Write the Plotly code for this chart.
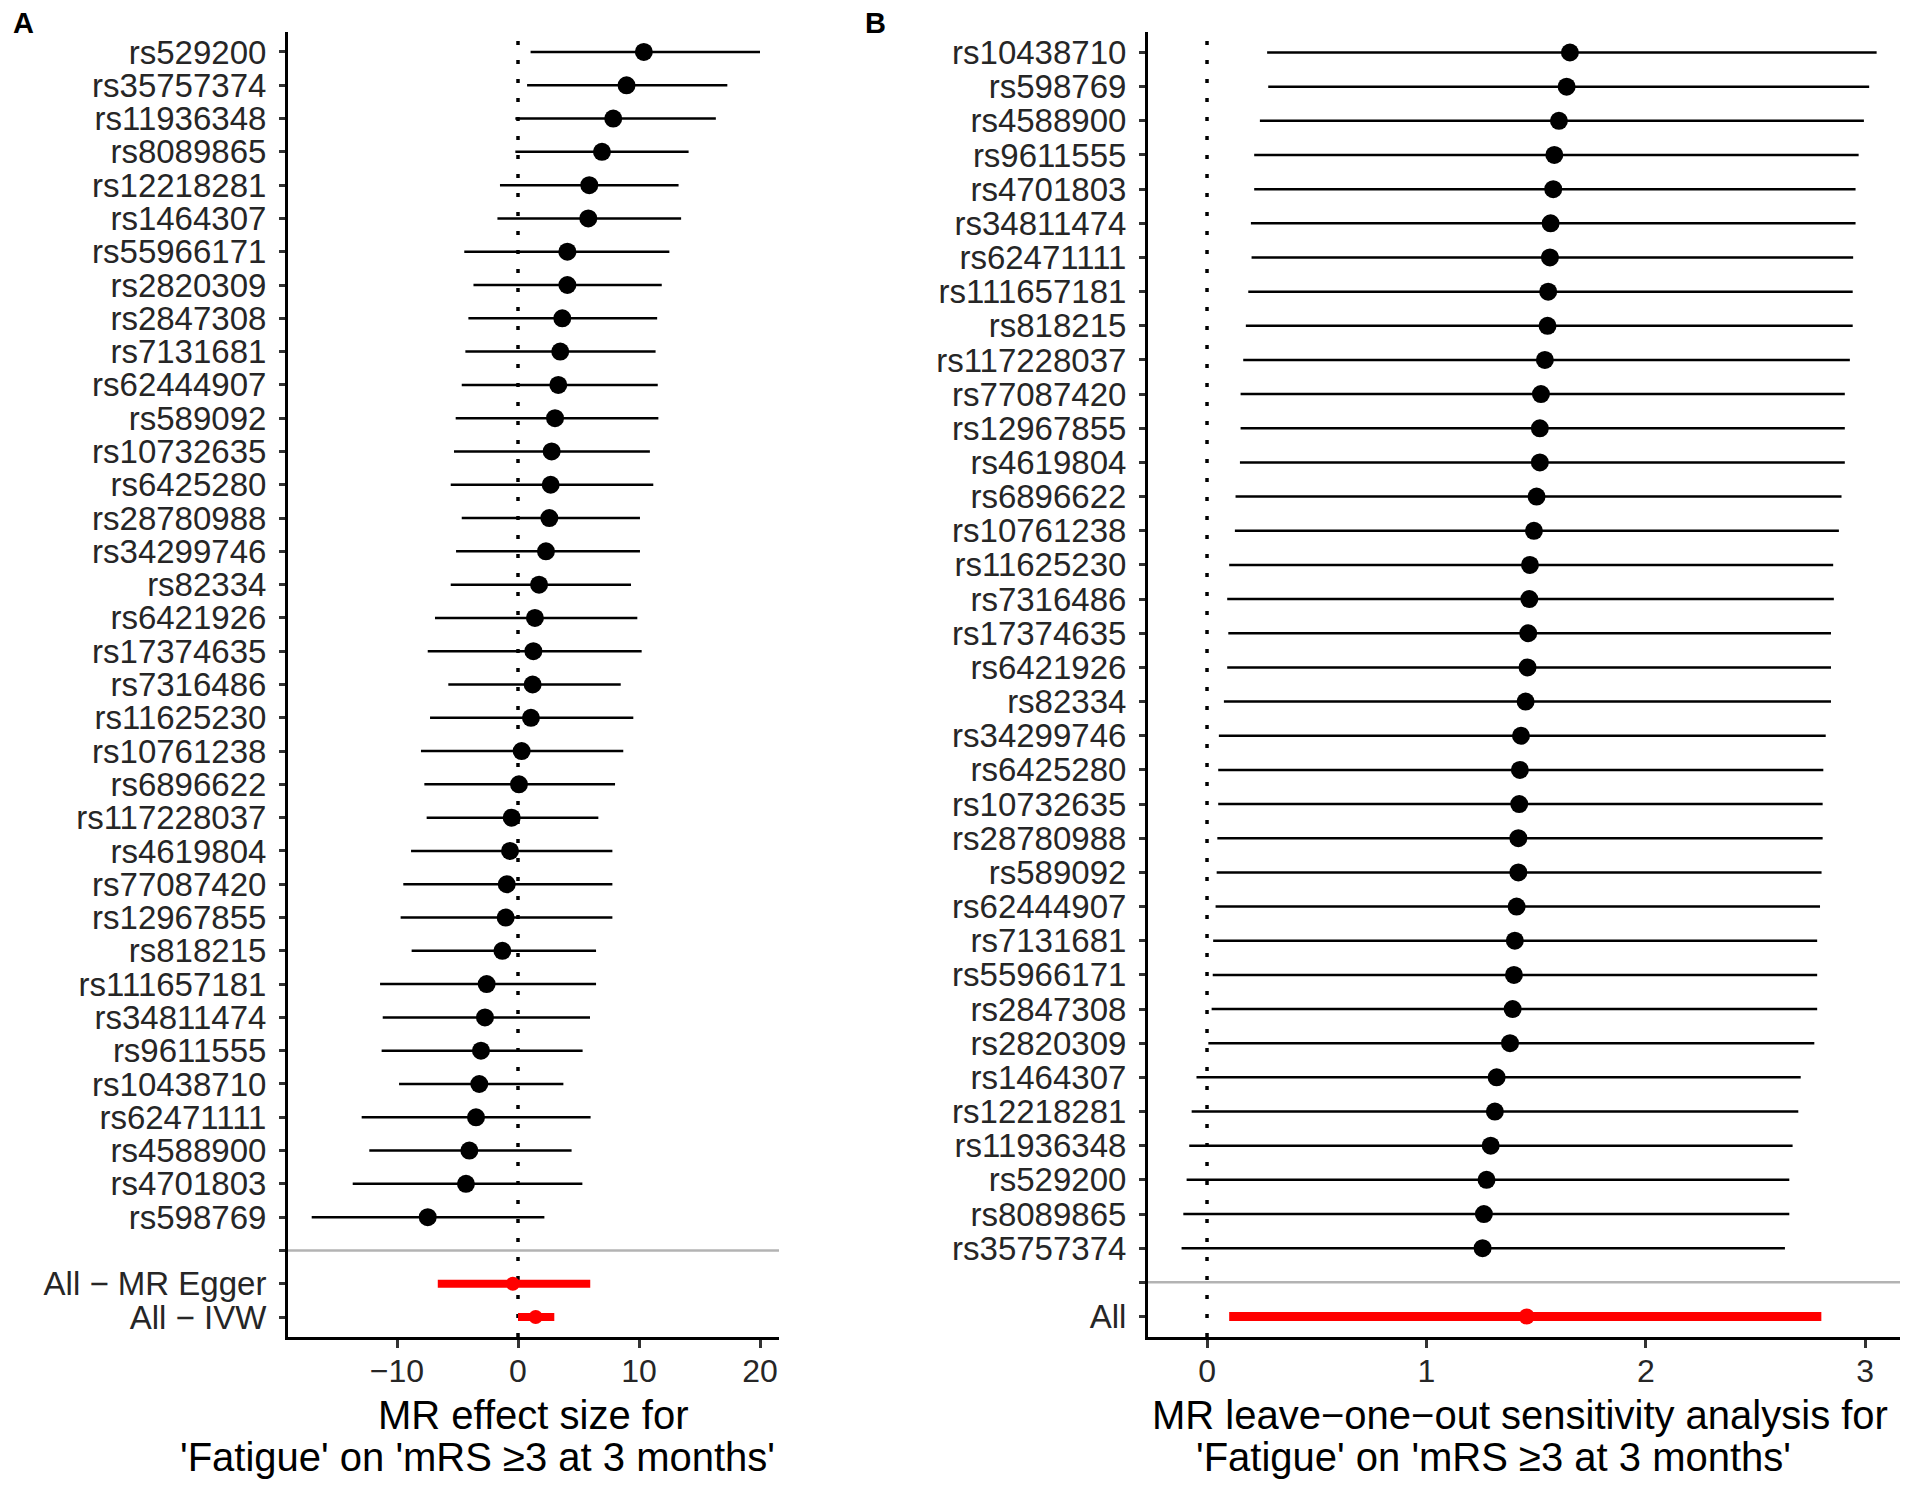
import plotly.graph_objects as go

# ---------------- Panel A data: MR effect size per SNP ----------------
snps_a = ["rs529200", "rs35757374", "rs11936348", "rs8089865", "rs12218281", "rs1464307",
          "rs55966171", "rs2820309", "rs2847308", "rs7131681", "rs62444907", "rs589092",
          "rs10732635", "rs6425280", "rs28780988", "rs34299746", "rs82334", "rs6421926",
          "rs17374635", "rs7316486", "rs11625230", "rs10761238", "rs6896622", "rs117228037",
          "rs4619804", "rs77087420", "rs12967855", "rs818215", "rs111657181", "rs34811474",
          "rs9611555", "rs10438710", "rs62471111", "rs4588900", "rs4701803", "rs598769"]
est_a = [10.4, 8.97, 7.87, 6.94, 5.89, 5.81, 4.08, 4.08, 3.66, 3.49, 3.33, 3.06,
         2.78, 2.70, 2.59, 2.31, 1.74, 1.40, 1.27, 1.21, 1.07, 0.30, 0.08, -0.52,
         -0.66, -0.93, -1.02, -1.29, -2.59, -2.73, -3.06, -3.20, -3.47, -4.02, -4.30, -7.46]
lo_a = [1.04, 0.75, -0.22, -0.22, -1.49, -1.70, -4.44, -3.68, -4.10, -4.35, -4.65, -5.15,
        -5.29, -5.56, -4.65, -5.12, -5.56, -6.86, -7.46, -5.76, -7.27, -8.02, -7.74, -7.55,
        -8.84, -9.48, -9.70, -8.79, -11.40, -11.18, -11.27, -9.83, -12.92, -12.29, -13.66, -17.05]
hi_a = [20.0, 17.3, 16.35, 14.1, 13.27, 13.48, 12.51, 11.88, 11.5, 11.37, 11.55, 11.6,
        10.9, 11.18, 10.08, 10.08, 9.34, 9.86, 10.22, 8.49, 9.53, 8.70, 8.02, 6.64,
        7.80, 7.80, 7.80, 6.45, 6.45, 5.95, 5.34, 3.75, 6.0, 4.43, 5.32, 2.18]

methods_a = ["All \u2212 MR Egger", "All \u2212 IVW"]
est_sum_a = [-0.43, 1.46]
lo_sum_a = [-6.63, 0.0]
hi_sum_a = [5.97, 3.0]

xticks_a = [-10, 0, 10, 20]

# ---------------- Panel B data: leave-one-out ----------------
snps_b = ["rs10438710", "rs598769", "rs4588900", "rs9611555", "rs4701803", "rs34811474",
          "rs62471111", "rs111657181", "rs818215", "rs117228037", "rs77087420", "rs12967855",
          "rs4619804", "rs6896622", "rs10761238", "rs11625230", "rs7316486", "rs17374635",
          "rs6421926", "rs82334", "rs34299746", "rs6425280", "rs10732635", "rs28780988",
          "rs589092", "rs62444907", "rs7131681", "rs55966171", "rs2847308", "rs2820309",
          "rs1464307", "rs12218281", "rs11936348", "rs529200", "rs8089865", "rs35757374"]
est_b = [1.654, 1.639, 1.604, 1.583, 1.578, 1.566, 1.563, 1.555, 1.552, 1.540, 1.522, 1.517,
         1.517, 1.502, 1.490, 1.472, 1.469, 1.464, 1.461, 1.452, 1.431, 1.426, 1.423, 1.419,
         1.419, 1.411, 1.403, 1.399, 1.393, 1.381, 1.320, 1.312, 1.293, 1.274, 1.262, 1.256]
lo_b = [0.274, 0.279, 0.241, 0.215, 0.215, 0.200, 0.203, 0.188, 0.177, 0.165, 0.153, 0.153,
        0.150, 0.130, 0.127, 0.101, 0.092, 0.097, 0.092, 0.077, 0.054, 0.051, 0.051, 0.047,
        0.044, 0.039, 0.028, 0.026, 0.021, 0.006, -0.048, -0.070, -0.081, -0.093, -0.108, -0.116]
hi_b = [3.052, 3.018, 2.994, 2.970, 2.956, 2.956, 2.945, 2.943, 2.943, 2.930, 2.907, 2.907,
        2.907, 2.892, 2.880, 2.854, 2.857, 2.844, 2.844, 2.844, 2.820, 2.809, 2.806, 2.806,
        2.801, 2.794, 2.781, 2.781, 2.781, 2.768, 2.706, 2.695, 2.669, 2.654, 2.654, 2.634]

methods_b = ["All"]
est_sum_b = [1.457]
lo_sum_b = [0.101]
hi_sum_b = [2.80]

xticks_b = [0, 1, 2, 3]

title_a = ["MR effect size for", "'Fatigue' on 'mRS \u22653 at 3 months'"]
title_b = ["MR leave\u2212one\u2212out sensitivity analysis for", "'Fatigue' on 'mRS \u22653 at 3 months'"]

# ---------------- Figure geometry (pixels of the 1908x1488 page) ----------------
OFF = 8                      # default page margin of the HTML body
W, H = 1908 - OFF, 1488 - OFF
FONT = "Liberation Sans, Arial, sans-serif"
TXT = "#262626"


def px_x(p):
    return (p - OFF) / W


def px_y(p):
    return 1 - (p - OFF) / H


def err(est, lo, hi):
    return [h - e for e, h in zip(est, hi)], [e - l for e, l in zip(est, lo)]


rows_a = list(range(len(snps_a)))
sep_a = len(snps_a)
rows_sum_a = [sep_a + 1 + i for i in range(len(methods_a))]
rows_b = list(range(len(snps_b)))
sep_b = len(snps_b)
rows_sum_b = [sep_b + 1 + i for i in range(len(methods_b))]

fig = go.Figure()

ea, ema = err(est_a, lo_a, hi_a)
fig.add_trace(go.Scatter(
    x=est_a, y=rows_a, mode="markers", xaxis="x", yaxis="y",
    marker=dict(color="black", size=18),
    error_x=dict(type="data", symmetric=False, array=ea, arrayminus=ema,
                 color="black", thickness=2.5, width=0),
    showlegend=False, hoverinfo="skip"))
esa, esma = err(est_sum_a, lo_sum_a, hi_sum_a)
fig.add_trace(go.Scatter(
    x=est_sum_a, y=rows_sum_a, mode="markers", xaxis="x", yaxis="y",
    marker=dict(color="red", size=14),
    error_x=dict(type="data", symmetric=False, array=esa, arrayminus=esma,
                 color="red", thickness=8, width=0),
    showlegend=False, hoverinfo="skip"))

eb, emb = err(est_b, lo_b, hi_b)
fig.add_trace(go.Scatter(
    x=est_b, y=rows_b, mode="markers", xaxis="x2", yaxis="y2",
    marker=dict(color="black", size=18),
    error_x=dict(type="data", symmetric=False, array=eb, arrayminus=emb,
                 color="black", thickness=2.5, width=0),
    showlegend=False, hoverinfo="skip"))
esb, esmb = err(est_sum_b, lo_sum_b, hi_sum_b)
fig.add_trace(go.Scatter(
    x=est_sum_b, y=rows_sum_b, mode="markers", xaxis="x2", yaxis="y2",
    marker=dict(color="red", size=16),
    error_x=dict(type="data", symmetric=False, array=esb, arrayminus=esmb,
                 color="red", thickness=9, width=0),
    showlegend=False, hoverinfo="skip"))

axis_common = dict(showline=True, linecolor="black", linewidth=3, ticks="outside",
                   tickwidth=2.5, tickcolor="#333333", showgrid=False, zeroline=False)
yfont = dict(family=FONT, size=33, color=TXT)
xfont = dict(family=FONT, size=32, color=TXT)

y_dom = [px_y(1337), px_y(32)]

fig.update_layout(
    width=W, height=H,
    margin=dict(l=0, r=0, t=0, b=0),
    paper_bgcolor="white", plot_bgcolor="white",
    font=dict(family=FONT, color="black"),
    xaxis=dict(domain=[px_x(288), px_x(779)], range=[(288 - 518) / 12.1, (779 - 518) / 12.1],
               tickmode="array", tickvals=xticks_a,
               ticktext=[str(v).replace("-", "\u2212") for v in xticks_a],
               ticklen=8, ticklabelstandoff=-4, anchor="y", tickfont=xfont, **axis_common),
    yaxis=dict(domain=y_dom, range=[len(snps_a) + len(methods_a) + 0.6, -0.6],
               tickmode="array", tickvals=rows_a + [sep_a] + rows_sum_a,
               ticktext=snps_a + [""] + methods_a, ticklen=6, ticklabelstandoff=6,
               anchor="x", tickfont=yfont, **axis_common),
    xaxis2=dict(domain=[px_x(1148), 1.0], range=[-0.269, 3.195],
                tickmode="array", tickvals=xticks_b, ticktext=[str(v) for v in xticks_b],
                ticklen=8, ticklabelstandoff=-4, anchor="y2", tickfont=xfont, **axis_common),
    yaxis2=dict(domain=y_dom, range=[len(snps_b) + len(methods_b) + 0.6, -0.6],
                tickmode="array", tickvals=rows_b + [sep_b] + rows_sum_b,
                ticktext=snps_b + [""] + methods_b, ticklen=6, ticklabelstandoff=6,
                anchor="x2", tickfont=yfont, **axis_common),
)

shapes = []
for xr, yr, sep in (("x", "y", sep_a), ("x2", "y2", sep_b)):
    shapes.append(dict(type="line", xref=xr + " domain", yref=yr, x0=0, x1=1, y0=sep, y1=sep,
                       line=dict(color="#b3b3b3", width=2.5), layer="below"))
    shapes.append(dict(type="line", xref=xr, yref=yr + " domain", x0=0, x1=0, y0=0, y1=1,
                       line=dict(color="black", width=3.5, dash="4px,15px"), layer="below"))
fig.update_layout(shapes=shapes)

ann = []
ann.append(dict(text="<b>A</b>", x=px_x(23), y=px_y(23), xanchor="center", yanchor="middle",
                font=dict(size=29, color="black", family=FONT)))
ann.append(dict(text="<b>B</b>", x=px_x(875), y=px_y(23), xanchor="center", yanchor="middle",
                font=dict(size=29, color="black", family=FONT)))
ann.append(dict(text=title_a[0], x=px_x(533), y=px_y(1415), xanchor="center", yanchor="middle",
                font=dict(size=40, color="black", family=FONT)))
ann.append(dict(text=title_a[1], x=px_x(477), y=px_y(1457), xanchor="center", yanchor="middle",
                font=dict(size=40, color="black", family=FONT)))
ann.append(dict(text=title_b[0], x=px_x(1150), y=px_y(1415), xanchor="left", yanchor="middle",
                font=dict(size=40, color="black", family=FONT)))
ann.append(dict(text=title_b[1], x=px_x(1493), y=px_y(1457), xanchor="center", yanchor="middle",
                font=dict(size=40, color="black", family=FONT)))
for a in ann:
    a.update(xref="paper", yref="paper", showarrow=False)
fig.update_layout(annotations=ann)

fig.write_html("out.html")
